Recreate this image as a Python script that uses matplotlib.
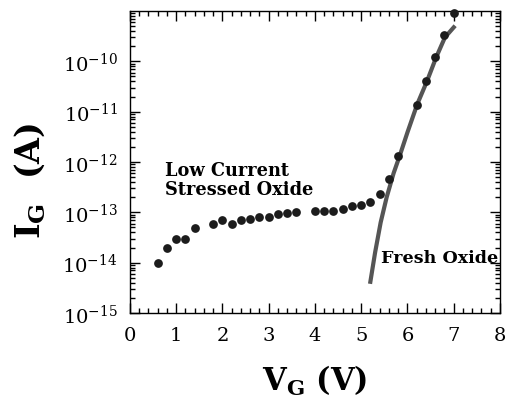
import numpy as np
import matplotlib
matplotlib.use('Agg')
from matplotlib import pyplot as plt
from matplotlib.ticker import LogLocator, MultipleLocator, NullFormatter, FixedLocator

# stressed oxide measurement (dots)
v_stress = [0.6, 0.8, 1.0, 1.2, 1.4, 1.8, 2.0, 2.2, 2.4, 2.6, 2.8, 3.0, 3.2, 3.4, 3.6,
            4.0, 4.2, 4.4, 4.6, 4.8, 5.0, 5.2, 5.4, 5.6, 5.8, 6.2, 6.4, 6.6, 6.8, 7.0]
i_stress = [1.0e-14, 2.0e-14, 2.9e-14, 2.9e-14, 4.8e-14, 6.0e-14, 7.1e-14, 5.9e-14,
            7.0e-14, 7.4e-14, 8.0e-14, 8.0e-14, 9.3e-14, 9.6e-14, 1.0e-13,
            1.08e-13, 1.05e-13, 1.05e-13, 1.16e-13, 1.32e-13, 1.4e-13, 1.59e-13,
            2.3e-13, 4.6e-13, 1.3e-12, 1.36e-11, 4.1e-11, 1.24e-10, 3.33e-10, 9.0e-10]

# fresh oxide curve (line)
v_fresh = [5.19, 5.30, 5.42, 5.55, 5.70, 5.84, 6.00, 6.21, 6.42, 6.62, 6.81, 7.03]
i_fresh = [3.8e-15, 1.6e-14, 6.3e-14, 2.0e-13, 6.0e-13, 1.4e-12, 3.9e-12,
           1.4e-11, 4.0e-11, 1.2e-10, 3.0e-10, 5.1e-10]

yticks = [1e-15, 1e-14, 1e-13, 1e-12, 1e-11, 1e-10]

plt.rcParams['mathtext.fontset'] = 'dejavuserif'
plt.rcParams['font.family'] = 'DejaVu Serif'

fig = plt.figure(figsize=(5.09, 4.06), dpi=100)
ax = fig.add_axes([0.2554, 0.2266, 0.7269, 0.7438])

ax.plot(v_fresh, i_fresh, color='#555555', lw=3, solid_capstyle='butt', zorder=2)
ax.plot(v_stress, i_stress, 'o', color='#1c1c1c', ms=6.3, mec='none', zorder=3, clip_on=False)

ax.set_yscale('log')
ax.set_xlim(0, 8)
ax.set_ylim(1e-15, 1e-9)
ax.xaxis.set_major_locator(MultipleLocator(1))
ax.xaxis.set_minor_locator(MultipleLocator(0.2))
ax.yaxis.set_major_locator(FixedLocator(yticks))
ax.yaxis.set_minor_locator(LogLocator(base=10, subs=np.arange(2, 10), numticks=10))
ax.yaxis.set_minor_formatter(NullFormatter())

ax.tick_params(which='both', direction='in', top=True, right=True, width=1, labelsize=14)
ax.tick_params(which='major', length=7)
ax.tick_params(which='minor', length=3.5)
ax.tick_params(axis='x', pad=9)
ax.tick_params(axis='y', pad=9)
for s in ax.spines.values():
    s.set_linewidth(1)

ax.set_xlabel(r'$\mathbf{V_G}$ (V)', fontsize=22, fontweight='bold', labelpad=14)
ax.set_ylabel(r'$\mathbf{I_G}$  (A)', fontsize=24, fontweight='bold')
ax.yaxis.set_label_coords(-0.225, 0.44)

ax.text(0.76, 1.05e-12, 'Low Current\nStressed Oxide', fontsize=12.8, fontweight='bold',
        va='top', ha='left', linespacing=1.1)
ax.text(5.43, 1.85e-14, 'Fresh Oxide', fontsize=12.6, fontweight='bold', va='top', ha='left')

fig.savefig('out.png', dpi=100)
